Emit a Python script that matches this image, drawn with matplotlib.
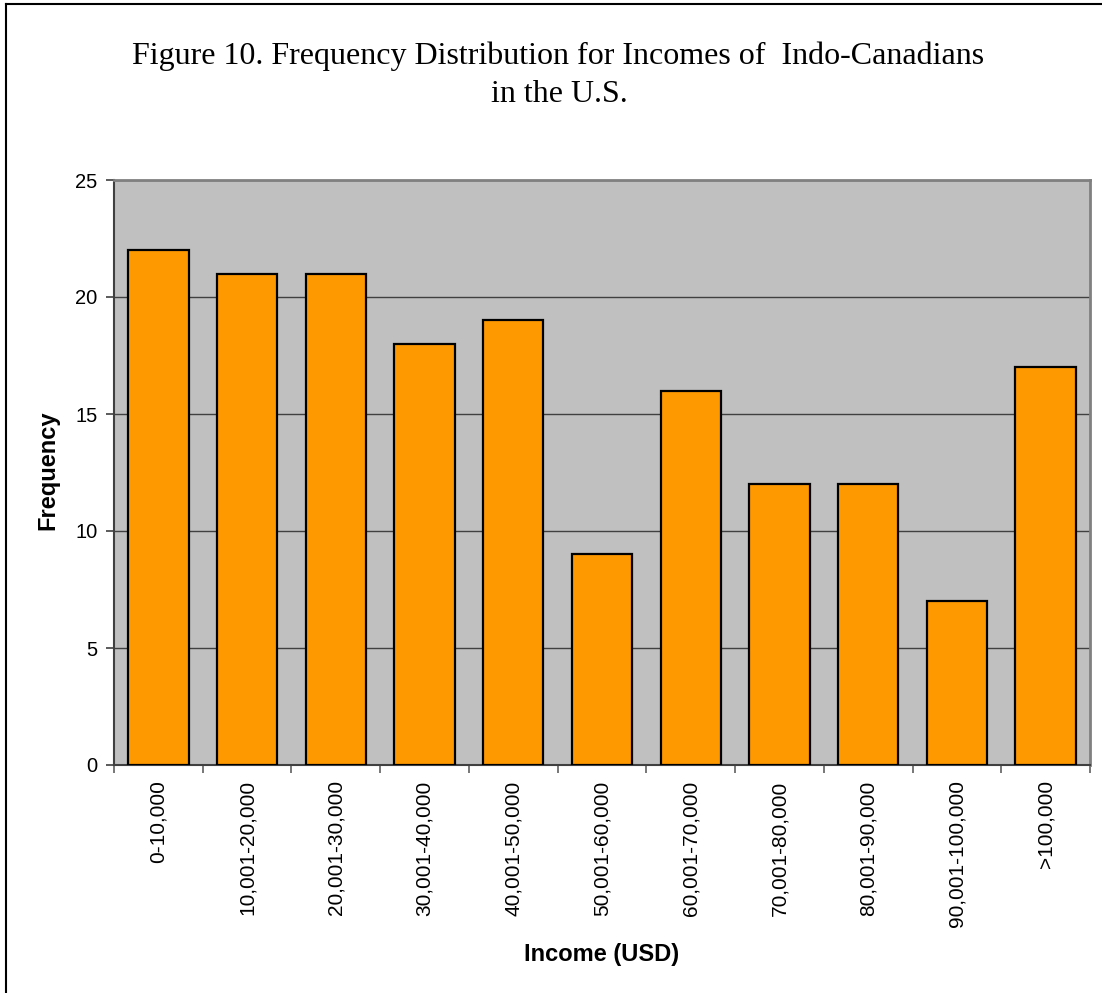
import numpy as np
import matplotlib.pyplot as plt
from matplotlib.lines import Line2D

categories = ['0-10,000', '10,001-20,000', '20,001-30,000', '30,001-40,000',
              '40,001-50,000', '50,001-60,000', '60,001-70,000', '70,001-80,000',
              '80,001-90,000', '90,001-100,000', '>100,000']
frequency = [22, 21, 21, 18, 19, 9, 16, 12, 12, 7, 17]
y_ticks = [0, 5, 10, 15, 20, 25]

W, H = 1102, 993
fig = plt.figure(figsize=(W / 100, H / 100), dpi=100)

# plot area in pixel coords
left, right, top, bottom = 114, 1090, 180, 765
ax = fig.add_axes([left / W, 1 - bottom / H, (right - left) / W, (bottom - top) / H])
ax.set_facecolor('#C0C0C0')

x = np.arange(len(categories))
ax.bar(x, frequency, width=0.68, color='#FF9900', edgecolor='black',
       linewidth=1.6, zorder=3)

ax.set_xlim(-0.5, len(categories) - 0.5)
ax.set_ylim(0, 25)
ax.set_yticks(y_ticks)
ax.set_yticklabels([str(v) for v in y_ticks], fontsize=14.5, family='Liberation Sans')
ax.yaxis.grid(True, color='#404040', linewidth=1, zorder=1)

# ticks on category boundaries, labels centered under bars
ax.set_xticks(np.arange(len(categories) + 1) - 0.5)
ax.set_xticklabels([])
ax.set_xticks(x, minor=True)
ax.set_xticklabels(categories, minor=True, rotation=90, fontsize=15,
                   family='Liberation Sans', va='top', ha='center')
ax.tick_params(axis='x', which='minor', length=0, pad=11)
ax.tick_params(axis='x', which='major', length=6, color='#606060', width=1.2)
ax.tick_params(axis='y', length=6, color='#404040', width=1.2, pad=6)

for side in ['top', 'right']:
    ax.spines[side].set_color('#808080')
    ax.spines[side].set_linewidth(2)
for side in ['left', 'bottom']:
    ax.spines[side].set_color('#404040')
    ax.spines[side].set_linewidth(1.5)

fig.text(48 / W, 1 - 470 / H, 'Frequency', fontsize=17, fontweight='bold',
         family='Liberation Sans', ha='center', va='center', rotation=90)
fig.text(602 / W, 1 - 955 / H, 'Income (USD)', fontsize=17, fontweight='bold',
         family='Liberation Sans', ha='center', va='center')

fig.text(558 / W, 1 - 56 / H, 'Figure 10. Frequency Distribution for Incomes of  Indo-Canadians',
         fontsize=23, family='Liberation Serif', ha='center', va='center')
fig.text(559 / W, 1 - 94 / H, 'in the U.S.',
         fontsize=23, family='Liberation Serif', ha='center', va='center')

# outer border of the chart (only top and left edges show)
fig.add_artist(Line2D([6 / W, 6 / W], [0, 1 - 4 / H], transform=fig.transFigure,
                      color='black', linewidth=1.5))
fig.add_artist(Line2D([6 / W, 1], [1 - 4 / H, 1 - 4 / H], transform=fig.transFigure,
                      color='black', linewidth=1.5))

fig.savefig('out.png', dpi=100)
